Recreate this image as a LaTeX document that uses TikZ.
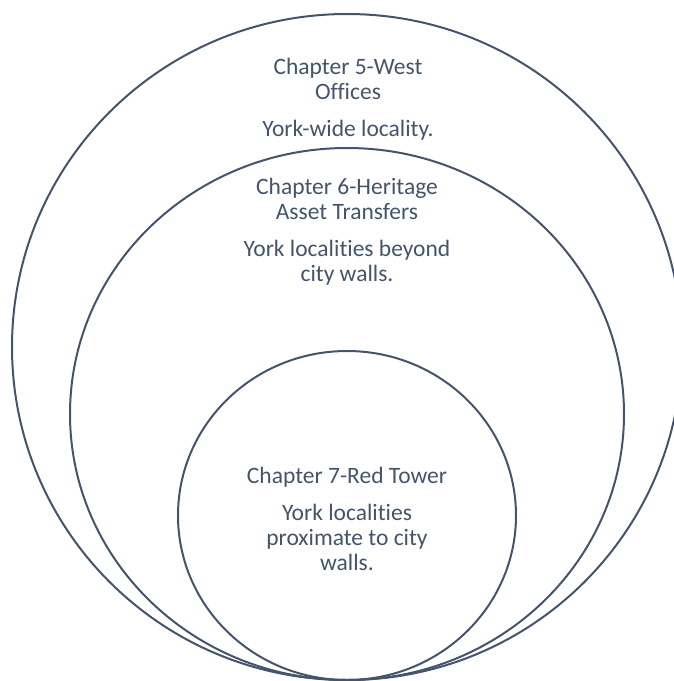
\documentclass[tikz,border=0pt]{standalone}
\usepackage{fontspec}
\setmainfont{Carlito}[Ligatures=NoCommon]
\usetikzlibrary{shapes.geometric}
\definecolor{slate}{HTML}{44546A}
\begin{document}
\begin{tikzpicture}[x=1pt, y=-1pt,
    ring/.style={ellipse, draw=slate, line width=2pt, inner sep=0pt},
    label/.style={text=slate, align=center, inner sep=0pt, font=\fontsize{23.5}{25}\selectfont}]
      \useasboundingbox (0, 0) rectangle (674, 681);
      \clip (0, 0) rectangle (674, 681);

      \node[ring, minimum width=670, minimum height=666] (outer) at (347, 347) {};
      \node[ring, minimum width=554, minimum height=532] (middle) at (347, 414) {};
      \node[ring, minimum width=338, minimum height=329] (inner) at (347, 515.5) {};

      \node[label] (westoffices) at (348, 99) {Chapter 5-West\\Offices\\[12pt]York-wide locality.};
      \node[label] (heritage) at (347, 231.5) {Chapter 6-Heritage\\Asset Transfers\\[12pt]York localities beyond\\city walls.};
      \node[label] (redtower) at (347, 518.5) {Chapter 7-Red Tower\\[12pt]York localities\\proximate to city\\walls.};
    \end{tikzpicture}
\end{document}
